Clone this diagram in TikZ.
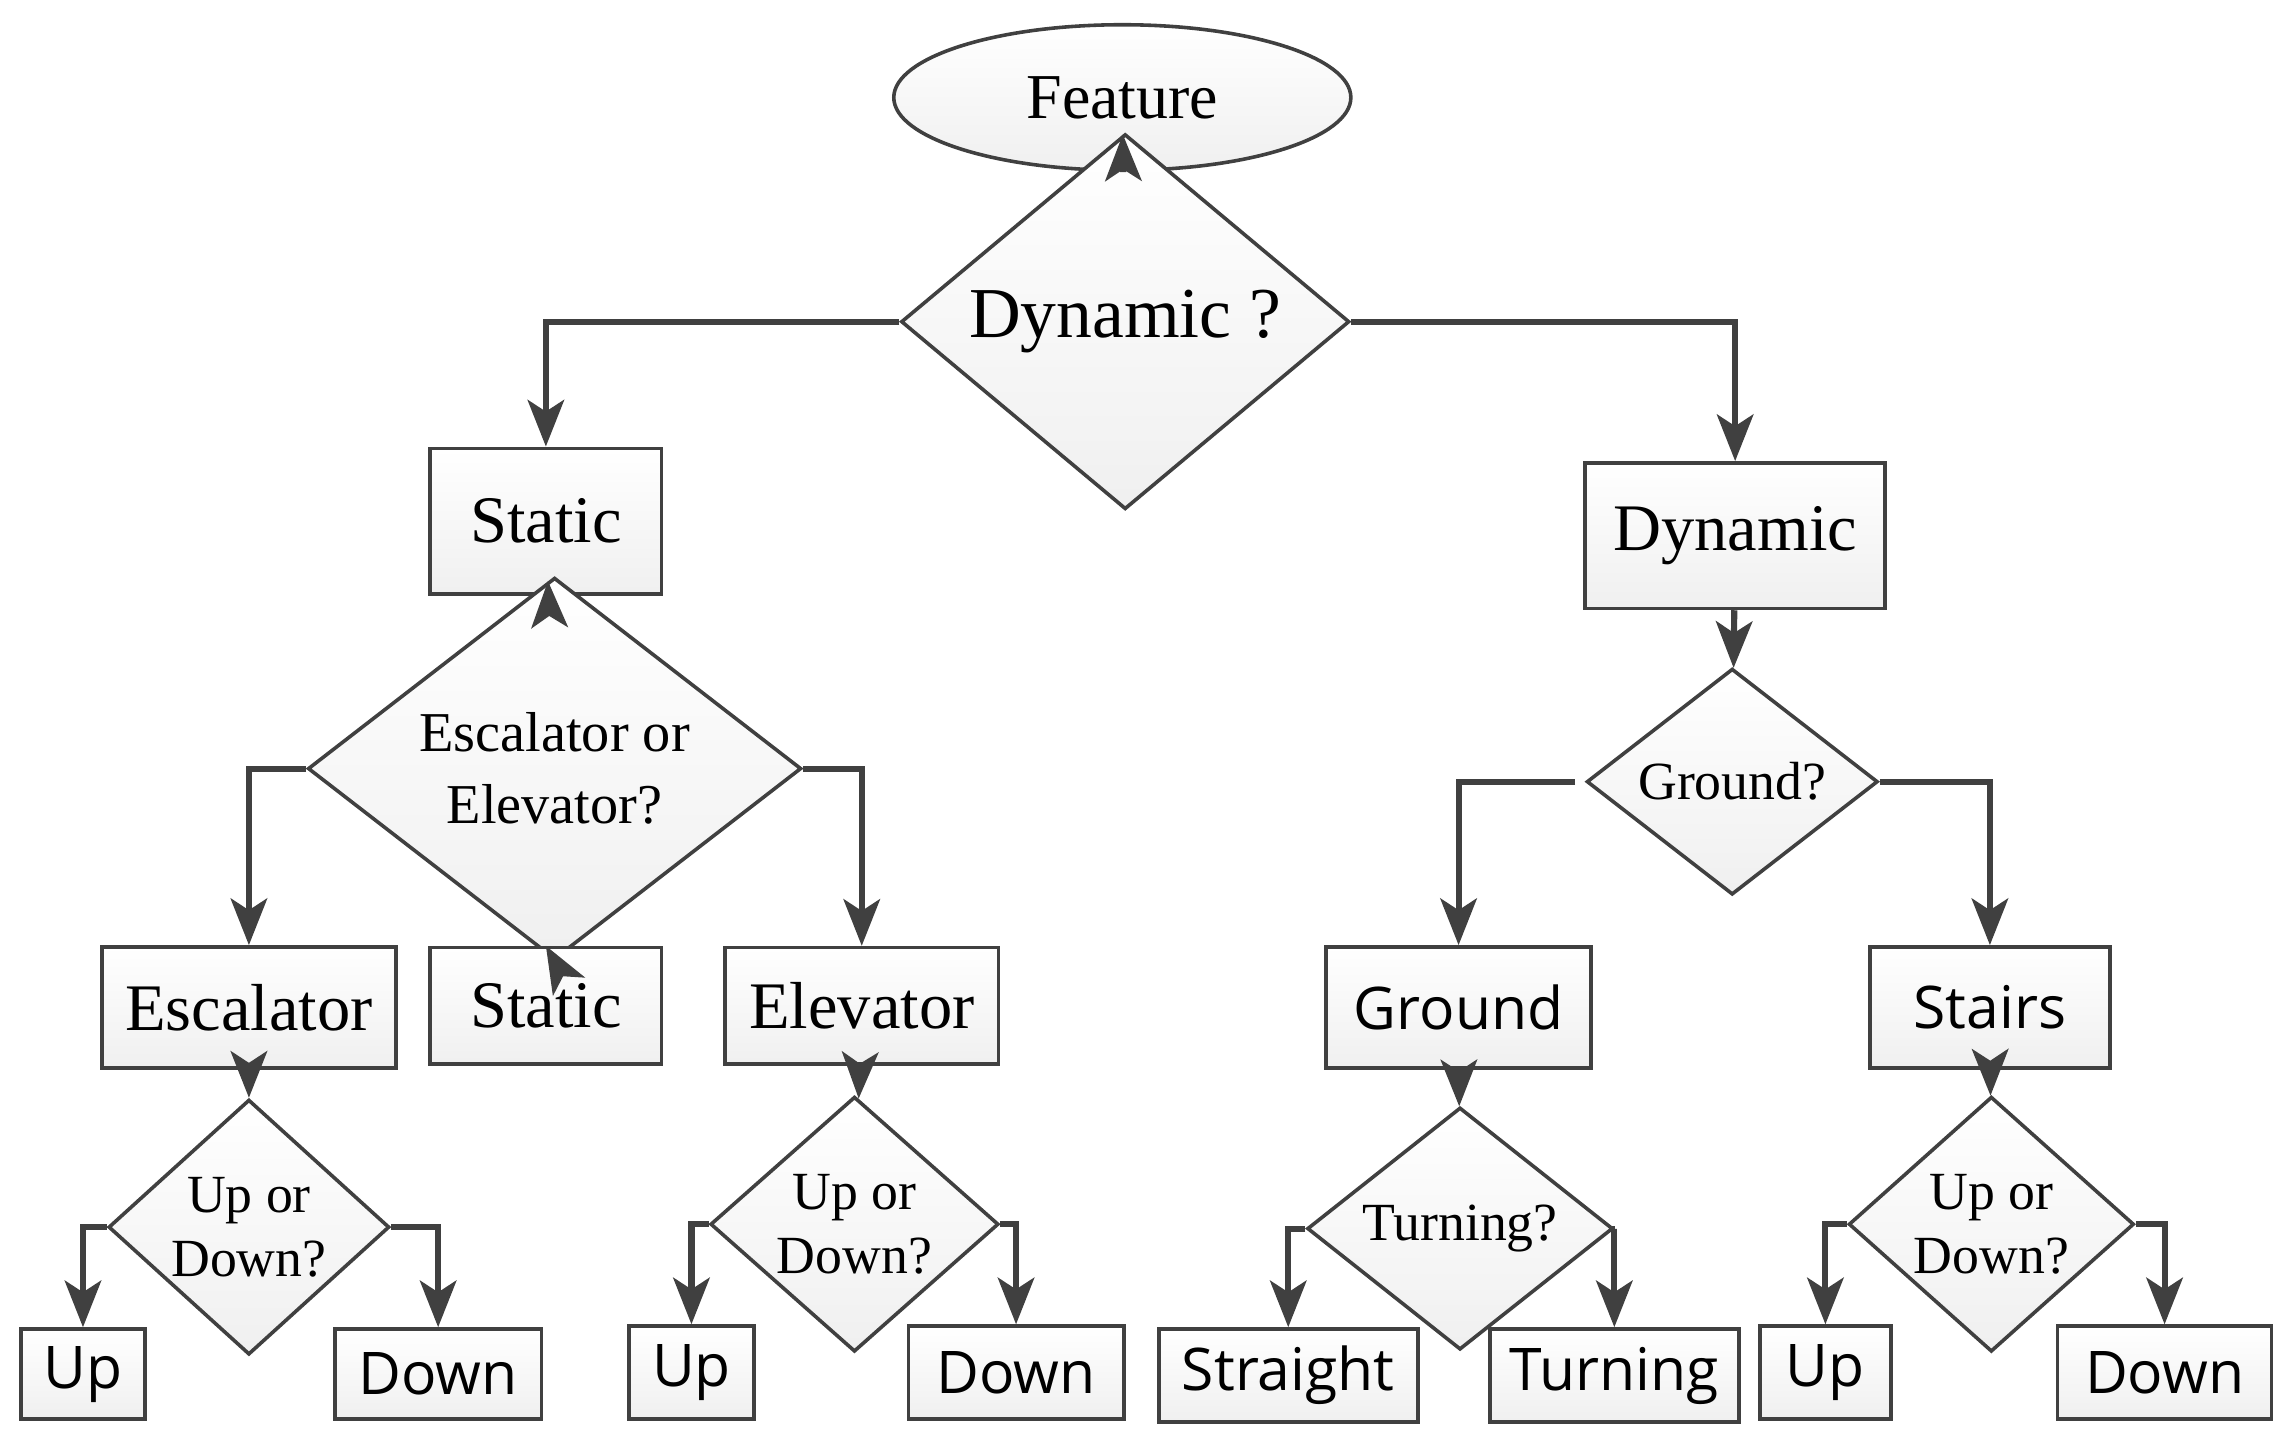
\documentclass[tikz,border=0pt]{standalone}
\usepackage{fontspec}
\setmainfont{Liberation Serif}
\newfontfamily\sff{Open Sans}
\usetikzlibrary{shapes.geometric,arrows.meta}
\definecolor{ln}{HTML}{404040}
\tikzset{
 base/.style={draw=ln,line width=0.7pt,top color=white,bottom color=gray!12,inner sep=0pt,align=center},
 box/.style={base,rectangle},
 dia/.style={base,diamond},
 arr/.style={draw=ln,line width=1.2pt,-{Stealth[length=3.2mm,width=2.5mm,inset=0.8mm]}},
 ser/.style={font=\fontsize{13}{14}\selectfont},
 sers/.style={font=\fontsize{10.5}{12.5}\selectfont},
 sans/.style={font=\sff\fontsize{11.5}{13}\selectfont},
}
\begin{document}
\begin{tikzpicture}[x=0.1mm,y=-0.1mm]
\useasboundingbox (0,0) rectangle (1567,990);
\node[base,ellipse,minimum width=31.4mm,minimum height=10mm,ser,font=\fontsize{12.5}{14}\selectfont] (feat) at (771,67) {Feature};
\node[dia,minimum width=30.8mm,minimum height=11.2mm,ser,font=\fontsize{14}{16}\selectfont] (q1) at (773,221) {Dynamic ?};
\node[box,minimum width=15.9mm,minimum height=10mm,ser] (static) at (375,358) {Static};
\node[box,minimum width=20.6mm,minimum height=10mm,ser] (dyn) at (1192,368) {Dynamic};
\node[dia,minimum width=33.9mm,minimum height=13.2mm,sers,font=\fontsize{11}{14}\selectfont] (q2) at (381,528) {Escalator or\\Elevator?};
\node[dia,minimum width=20mm,minimum height=11.4mm,sers] (q3) at (1190,537) {Ground?};
\node[box,minimum width=20.2mm,minimum height=8.3mm,ser] (esc) at (171,692) {Escalator};
\node[box,minimum width=15.9mm,minimum height=8mm,ser] (st2) at (375,691) {Static};
\node[box,minimum width=18.8mm,minimum height=8mm,ser] (ele) at (592,691) {Elevator};
\node[box,minimum width=18.2mm,minimum height=8.3mm,sans] (gr) at (1002,692) {Ground};
\node[box,minimum width=16.5mm,minimum height=8.3mm,sans] (sta) at (1367,692) {Stairs};
\node[dia,minimum width=19.3mm,minimum height=11.4mm,sers] (d1) at (171,843) {Up or\\Down?};
\node[dia,minimum width=19.8mm,minimum height=11.3mm,sers] (d2) at (587,841) {Up or\\Down?};
\node[dia,minimum width=21mm,minimum height=11.2mm,sers] (d3) at (1003,844) {Turning?};
\node[dia,minimum width=19.6mm,minimum height=11.3mm,sers] (d4) at (1368,841) {Up or\\Down?};
\node[box,minimum width=8.5mm,minimum height=6.2mm,sans] (u1) at (57,944) {Up};
\node[box,minimum width=14.2mm,minimum height=6.2mm,sans] (w1) at (301,944) {Down};
\node[box,minimum width=8.6mm,minimum height=6.4mm,sans] (u2) at (475,943) {Up};
\node[box,minimum width=14.8mm,minimum height=6.4mm,sans] (w2) at (698,943) {Down};
\node[box,minimum width=17.8mm,minimum height=6.4mm,sans] (s1) at (885,945) {Straight};
\node[box,minimum width=17.1mm,minimum height=6.4mm,sans] (t1) at (1109,945) {Turning};
\node[box,minimum width=9mm,minimum height=6.4mm,sans] (u3) at (1254,943) {Up};
\node[box,minimum width=14.7mm,minimum height=6.4mm,sans] (w3) at (1487,943) {Down};
\coordinate (g3) at (1082,537);
\draw[arr] (feat) -- (q1);
\draw[arr] (q1.west) -| (static.north);
\draw[arr] (q1.east) -| (dyn.north);
\draw[arr] (static) -- (q2);
\draw[arr] (q2.west) -| (esc.north);
\draw[arr] (q2.south) -- (st2.north);
\draw[arr] (q2.east) -| (ele.north);
\draw[arr] (dyn) -- (q3);
\draw[arr] (g3) -| (gr.north);
\draw[arr] (q3.east) -| (sta.north);
\draw[arr] (esc) -- (d1);
\draw[arr] (ele) -- (d2);
\draw[arr] (gr) -- (d3);
\draw[arr] (sta) -- (d4);
\draw[arr] (d1.west) -| (u1.north);
\draw[arr] (d1.east) -| (w1.north);
\draw[arr] (d2.west) -| (u2.north);
\draw[arr] (d2.east) -| (w2.north);
\draw[arr] (d3.west) -| (s1.north);
\draw[arr] (d3.east) -| (t1.north);
\draw[arr] (d4.west) -| (u3.north);
\draw[arr] (d4.east) -| (w3.north);
\end{tikzpicture}
\end{document}
